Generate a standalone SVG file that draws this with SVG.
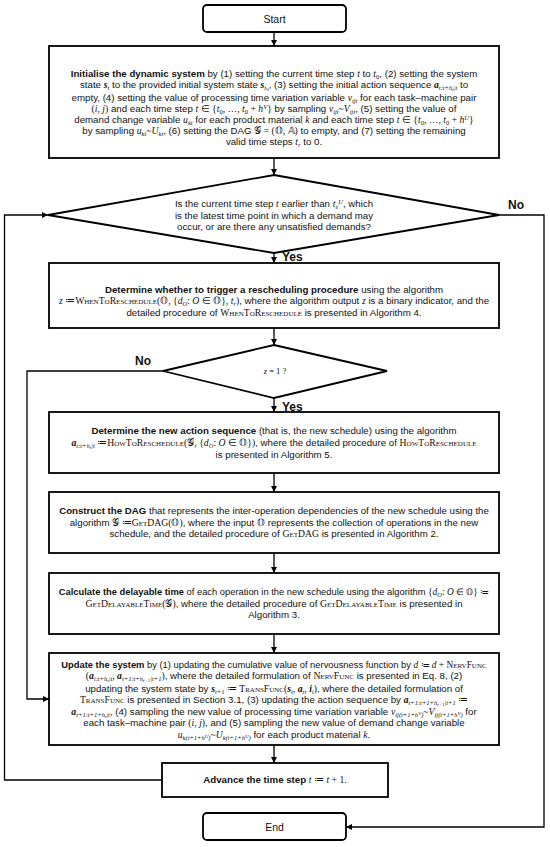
<svg xmlns="http://www.w3.org/2000/svg" width="550" height="847" viewBox="0 0 550 847">
<defs>
<marker id="arr" viewBox="0 0 10 10" refX="10" refY="5" markerWidth="6" markerHeight="6" markerUnits="userSpaceOnUse" orient="auto"><path d="M0,0 L10,5 L0,10 z" fill="#000"/></marker>
<style>
.box{fill:#fff;stroke:#000;stroke-width:1.8}
.c{fill:none;stroke:#000;stroke-width:1.3;marker-end:url(#arr)}
text{font-family:"Liberation Sans",Arial,sans-serif;font-size:9.7px;fill:#111;text-anchor:middle}
.bf{font-weight:bold}
.m{font-family:"Liberation Serif","Times New Roman",serif;font-style:italic}
.mu{font-family:"Liberation Serif","Times New Roman",serif}
.sc{font-family:"Liberation Serif","Times New Roman",serif;font-variant:small-caps}
.v{font-family:"Liberation Serif","Times New Roman",serif;font-style:italic;font-weight:bold}
.scr{font-family:"DejaVu Serif","DejaVu Sans",serif;font-style:normal}
.sb{font-size:6.5px;baseline-shift:-2px}
.sp{font-size:6.5px;baseline-shift:3.3px}
.ss{font-size:5px;baseline-shift:-1px}
.su{font-size:5px;baseline-shift:2.3px}
.lab{font-weight:bold;font-size:12px}
.se{font-size:10.5px}
.tight{font-size:9.35px}
</style>
</defs>
<g id="connectors">
<path class="c" d="M274,32 V46"/>
<path class="c" d="M274,158 V175"/>
<path class="c" d="M274,253 V263"/>
<path class="c" d="M274,328 V345"/>
<path class="c" d="M274,398 V412"/>
<path class="c" d="M274,473 V492"/>
<path class="c" d="M274,553 V573"/>
<path class="c" d="M274,634 V653"/>
<path class="c" d="M274,745 V763"/>
<path class="c" d="M499,215 H544 V827 H346"/>
<path class="c" d="M163,371 H27 V699 H49"/>
<path class="c" d="M162,780 H4.5 V215 H48"/>
<text class="lab" x="516" y="209">No</text>
<text class="lab" x="282" y="261" style="text-anchor:start">Yes</text>
<text class="lab" x="143" y="365">No</text>
<text class="lab" x="282" y="411" style="text-anchor:start">Yes</text>
</g>
<g id="start">
<rect class="box" x="203" y="5" width="143" height="27" rx="4"/>
<text class="se" x="274.5" y="22.5">Start</text>
</g>
<g id="init">
<rect class="box" x="49" y="46" width="450" height="112"/>
<text x="274" y="77"><tspan class="bf">Initialise the dynamic system</tspan> by (1) setting the current time step <tspan class="m">t</tspan> to <tspan class="m">t</tspan><tspan class="sb mu">0</tspan>, (2) setting the system</text>
<text x="274" y="88.3">state <tspan class="v">s</tspan><tspan class="sb m">t</tspan> to the provided initial system state <tspan class="v">s</tspan><tspan class="sb"><tspan class="m">t</tspan><tspan class="mu ss">0</tspan></tspan>, (3) setting the initial action sequence <tspan class="v">a</tspan><tspan class="sb m">t:t+h<tspan class="ss">t</tspan>|t</tspan> to</text>
<text x="274" y="100.5">empty, (4) setting the value of processing time variation variable <tspan class="m">v</tspan><tspan class="sb m">ijt</tspan> for each task–machine pair</text>
<text x="274" y="111.6"><tspan class="mu">(<tspan class="m">i</tspan>, <tspan class="m">j</tspan>)</tspan> and each time step <tspan class="mu"><tspan class="m">t</tspan> ∈ {<tspan class="m">t</tspan><tspan class="sb">0</tspan>, …, <tspan class="m">t</tspan><tspan class="sb">0</tspan> + <tspan class="m">h</tspan><tspan class="sp m">V</tspan>}</tspan> by sampling <tspan class="m">v</tspan><tspan class="sb m">ijt</tspan><tspan class="mu">~</tspan><tspan class="m">V</tspan><tspan class="sb m">ijt</tspan>, (5) setting the value of</text>
<text x="274" y="122.9">demand change variable <tspan class="m">u</tspan><tspan class="sb m">kt</tspan> for each product material <tspan class="m">k</tspan> and each time step <tspan class="mu"><tspan class="m">t</tspan> ∈ {<tspan class="m">t</tspan><tspan class="sb">0</tspan>, …, <tspan class="m">t</tspan><tspan class="sb">0</tspan> + <tspan class="m">h</tspan><tspan class="sp m">U</tspan>}</tspan></text>
<text x="274" y="134">by sampling <tspan class="m">u</tspan><tspan class="sb m">kt</tspan><tspan class="mu">~</tspan><tspan class="m">U</tspan><tspan class="sb m">kt</tspan>, (6) setting the DAG <tspan class="mu"><tspan class="scr">𝒢</tspan> = (𝕆, 𝔸)</tspan> to empty, and (7) setting the remaining</text>
<text x="274" y="145.3">valid time steps <tspan class="m">t</tspan><tspan class="sb m">r</tspan> to 0.</text>
</g>
<g id="decision1">
<path class="box" d="M274,175 L499,215 L274,253 L48,215 Z"/>
<text x="274" y="207">Is the current time step <tspan class="m">t</tspan> earlier than <tspan class="m">t</tspan><tspan class="sb m">e</tspan><tspan class="sp m">U</tspan>, which</text>
<text x="274" y="218.5">is the latest time point in which a demand may</text>
<text x="274" y="230">occur, or are there any unsatisfied demands?</text>
</g>
<g id="when">
<rect class="box" x="49" y="263" width="450" height="65"/>
<text x="274" y="292.5"><tspan class="bf">Determine whether to trigger a rescheduling procedure</tspan> using the algorithm</text>
<text x="274" y="304"><tspan class="m">z</tspan><tspan class="mu"> ≔</tspan><tspan class="sc">WhenToReschedule</tspan><tspan class="mu">(𝕆, {<tspan class="m">d</tspan><tspan class="sb m">O</tspan>: <tspan class="m">O</tspan> ∈ 𝕆}, <tspan class="m">t</tspan><tspan class="sb m">r</tspan>)</tspan>, where the algorithm output <tspan class="m">z</tspan> is a binary indicator, and the</text>
<text x="274" y="315.5">detailed procedure of <tspan class="sc">WhenToReschedule</tspan> is presented in Algorithm 4.</text>
</g>
<g id="decision2">
<path class="box" d="M274,345 L387,371 L274,398 L163,371 Z"/>
<text class="mu" x="275" y="374" style="font-size:8.5px"><tspan class="m">z</tspan> = 1 ?</text>
</g>
<g id="how">
<rect class="box" x="49" y="412" width="450" height="61"/>
<text x="274" y="434"><tspan class="bf">Determine the new action sequence</tspan> (that is, the new schedule) using the algorithm</text>
<text x="274" y="445.5"><tspan class="v">a</tspan><tspan class="sb m">t:t+h<tspan class="ss">t</tspan>|t</tspan><tspan class="mu"> ≔</tspan><tspan class="sc">HowToReschedule</tspan><tspan class="mu">(<tspan class="scr">𝒢</tspan>, {<tspan class="m">d</tspan><tspan class="sb m">O</tspan>: <tspan class="m">O</tspan> ∈ 𝕆})</tspan>, where the detailed procedure of <tspan class="sc">HowToReschedule</tspan></text>
<text x="274" y="457.5">is presented in Algorithm 5.</text>
</g>
<g id="getdag">
<rect class="box" x="49" y="492" width="450" height="61"/>
<text x="274" y="514"><tspan class="bf">Construct the DAG</tspan> that represents the inter-operation dependencies of the new schedule using the</text>
<text x="274" y="525.5">algorithm <tspan class="mu"><tspan class="scr">𝒢</tspan> ≔</tspan><tspan class="sc">GetDAG</tspan><tspan class="mu">(𝕆)</tspan>, where the input <tspan class="mu">𝕆</tspan> represents the collection of operations in the new</text>
<text x="274" y="537">schedule, and the detailed procedure of <tspan class="sc">GetDAG</tspan> is presented in Algorithm 2.</text>
</g>
<g id="delay">
<rect class="box" x="49" y="573" width="450" height="61"/>
<text class="tight" x="274" y="595"><tspan class="bf">Calculate the delayable time</tspan> of each operation in the new schedule using the algorithm <tspan class="mu">{<tspan class="m">d</tspan><tspan class="sb m">O</tspan>: <tspan class="m">O</tspan> ∈ 𝕆} ≔</tspan></text>
<text x="274" y="606.5"><tspan class="sc">GetDelayableTime</tspan><tspan class="mu">(<tspan class="scr">𝒢</tspan>)</tspan>, where the detailed procedure of <tspan class="sc">GetDelayableTime</tspan> is presented in</text>
<text x="274" y="618">Algorithm 3.</text>
</g>
<g id="update">
<rect class="box" x="49" y="653" width="450" height="92"/>
<text class="tight" x="274" y="668"><tspan class="bf">Update the system</tspan> by (1) updating the cumulative value of nervousness function by <tspan class="mu"><tspan class="m">d</tspan> ≔ <tspan class="m">d</tspan> + </tspan><tspan class="sc">NervFunc</tspan></text>
<text x="274" y="679.3"><tspan class="mu">(</tspan><tspan class="v">a</tspan><tspan class="sb m">t:t+h<tspan class="ss">t</tspan>|t</tspan><tspan class="mu">, </tspan><tspan class="v">a</tspan><tspan class="sb m">t+1:t+h<tspan class="ss">t+1</tspan>|t+1</tspan><tspan class="mu">)</tspan>, where the detailed formulation of <tspan class="sc">NervFunc</tspan> is presented in Eq. 8, (2)</text>
<text x="274" y="691.6">updating the system state by <tspan class="v">s</tspan><tspan class="sb m">t+1</tspan><tspan class="mu"> ≔ </tspan><tspan class="sc">TransFunc</tspan><tspan class="mu">(<tspan class="v">s</tspan><tspan class="sb m">t</tspan>, <tspan class="v">a</tspan><tspan class="sb m">t</tspan>, <tspan class="v">i</tspan><tspan class="sb m">t</tspan>)</tspan>, where the detailed formulation of</text>
<text x="274" y="703"><tspan class="sc">TransFunc</tspan> is presented in Section 3.1, (3) updating the action sequence by <tspan class="v">a</tspan><tspan class="sb m">t+1:t+1+h<tspan class="ss">t+1</tspan>|t+1</tspan><tspan class="mu"> ≔</tspan></text>
<text x="274" y="714.5"><tspan class="v">a</tspan><tspan class="sb m">t+1:t+1+h<tspan class="ss">t</tspan>|t</tspan>, (4) sampling the new value of processing time variation variable <tspan class="m">v</tspan><tspan class="sb m">ij(t+1+h<tspan class="su">V</tspan>)</tspan><tspan class="mu">~</tspan><tspan class="m">V</tspan><tspan class="sb m">ij(t+1+h<tspan class="su">V</tspan>)</tspan> for</text>
<text x="274" y="726">each task–machine pair <tspan class="mu">(<tspan class="m">i</tspan>, <tspan class="m">j</tspan>)</tspan>, and (5) sampling the new value of demand change variable</text>
<text x="274" y="737.5"><tspan class="m">u</tspan><tspan class="sb m">k(t+1+h<tspan class="su">U</tspan>)</tspan><tspan class="mu">~</tspan><tspan class="m">U</tspan><tspan class="sb m">k(t+1+h<tspan class="su">U</tspan>)</tspan> for each product material <tspan class="m">k</tspan>.</text>
</g>
<g id="advance">
<rect class="box" x="162" y="763" width="226" height="34"/>
<text x="275" y="783"><tspan class="bf">Advance the time step</tspan> <tspan class="mu"><tspan class="m">t</tspan> ≔ <tspan class="m">t</tspan> + 1.</tspan></text>
</g>
<g id="end">
<rect class="box" x="203" y="813" width="143" height="27" rx="4"/>
<text class="se" x="274.5" y="830.5">End</text>
</g>
</svg>
